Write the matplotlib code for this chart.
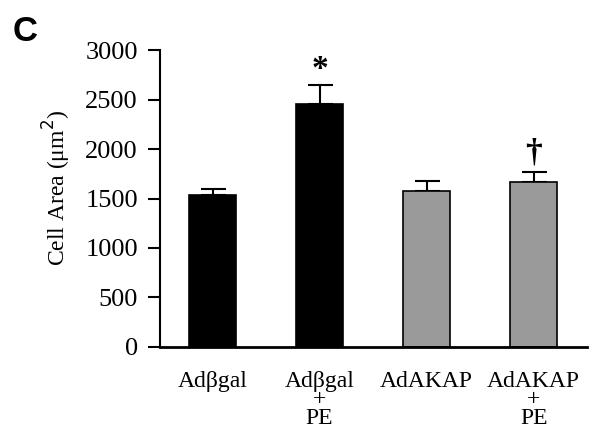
import matplotlib.pyplot as plt

groups = ['Adβgal', 'Adβgal\n+\nPE', 'AdAKAP', 'AdAKAP\n+\nPE']
area = [1540, 2460, 1580, 1670]
sem = [60, 190, 95, 100]
colors = ['black', 'black', '#9a9a9a', '#9a9a9a']
marks = ['', '*', '', '†']

plt.rcParams['font.family'] = ['Liberation Serif', 'DejaVu Serif']

fig = plt.figure(figsize=(6.11, 4.32), dpi=100)
ax = fig.add_axes([0.262, 0.197, 0.699, 0.687])

x = range(len(groups))
ax.bar(x, area, width=0.44, color=colors, edgecolor='black', linewidth=1.2, zorder=2)
ax.errorbar(x, area, yerr=[[0] * len(sem), sem], fmt='none', ecolor='black',
            elinewidth=1.5, capsize=9, capthick=1.5, zorder=1)

# significance marks above the error bars
for i, m in enumerate(marks):
    if m:
        off = 0 if m == '*' else 30
        ax.text(i, area[i] + sem[i] + off, m, ha='center', va='bottom',
                fontsize=24, fontweight='bold')

ax.set_xlim(-0.49, 3.5)
ax.set_ylim(0, 3000)
ax.set_yticks(range(0, 3001, 500))
ax.set_xticks(list(x))
ax.set_xticklabels(groups, fontsize=17, linespacing=0.85)
ax.tick_params(axis='x', length=0, pad=17)
ax.tick_params(axis='y', length=9, width=1.5, labelsize=19, pad=7)
ax.set_ylabel('Cell Area (μm$^2$)', fontsize=17)
ax.yaxis.set_label_coords(-0.203, 0.535)

for s in ['top', 'right']:
    ax.spines[s].set_visible(False)
ax.spines['left'].set_linewidth(1.5)
ax.spines['bottom'].set_linewidth(2)

fig.text(0.021, 0.928, 'C', fontsize=25, fontweight='bold', family='Liberation Sans',
         ha='left', va='center')

fig.savefig('out.png', dpi=100)
